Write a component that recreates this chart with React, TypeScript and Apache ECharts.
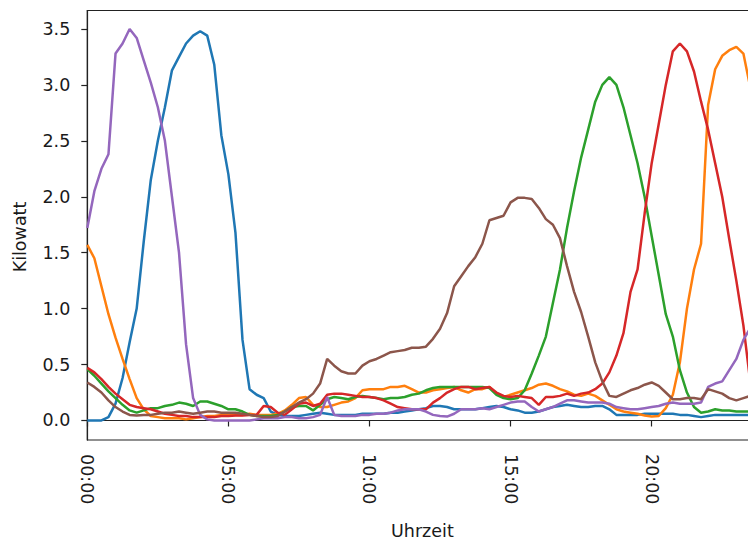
import React, { useEffect, useRef } from "react";
import * as echarts from "echarts";

// 15-minute time categories 00:00 … 23:45
const timeLabels: string[] = [];
for (let h = 0; h < 24; h++) {
  for (let m = 0; m < 60; m += 15) {
    timeLabels.push(`${String(h).padStart(2, "0")}:${String(m).padStart(2, "0")}`);
  }
}

const yTicks = [0, 0.5, 1, 1.5, 2, 2.5, 3, 3.5];
const yAxisTitle = "Kilowatt";
const xAxisTitle = "Uhrzeit";

const seriesBlue = [
  0.0, 0.0, 0.0, 0.03, 0.15, 0.38, 0.7, 1.0, 1.6, 2.15,
  2.5, 2.8, 3.13, 3.25, 3.37, 3.44, 3.48, 3.44, 3.18, 2.55,
  2.2, 1.68, 0.72, 0.28, 0.23, 0.2, 0.08, 0.05, 0.04, 0.04,
  0.04, 0.05, 0.06, 0.07, 0.06, 0.05, 0.05, 0.05, 0.05, 0.06,
  0.06, 0.06, 0.06, 0.07, 0.07, 0.08, 0.09, 0.1, 0.11, 0.13,
  0.13, 0.12, 0.1, 0.1, 0.1, 0.1, 0.11, 0.12, 0.13, 0.12,
  0.1, 0.09, 0.07, 0.07, 0.08, 0.1, 0.12, 0.13, 0.14, 0.13,
  0.12, 0.12, 0.13, 0.13, 0.1, 0.05, 0.05, 0.05, 0.05, 0.06,
  0.06, 0.06, 0.06, 0.06, 0.05, 0.05, 0.04, 0.03, 0.04, 0.05,
  0.05, 0.05, 0.05, 0.05, 0.05, 0.05,
];

const seriesOrange = [
  1.57, 1.45, 1.2, 0.95, 0.74, 0.55, 0.37, 0.2, 0.1, 0.04,
  0.03, 0.02, 0.02, 0.02, 0.01, 0.02, 0.03, 0.04, 0.04, 0.05,
  0.05, 0.05, 0.05, 0.06, 0.05, 0.05, 0.05, 0.06, 0.09, 0.14,
  0.2, 0.21, 0.14, 0.12, 0.12, 0.14, 0.16, 0.17, 0.2, 0.27,
  0.28, 0.28, 0.28, 0.3, 0.3, 0.31, 0.28, 0.25, 0.25, 0.27,
  0.28, 0.29, 0.3, 0.27, 0.25, 0.28, 0.28, 0.3, 0.24, 0.21,
  0.23, 0.25, 0.27, 0.29, 0.32, 0.33, 0.31, 0.28, 0.26, 0.23,
  0.22, 0.24, 0.22, 0.18, 0.14, 0.1, 0.08, 0.07, 0.06, 0.045,
  0.035, 0.04, 0.11, 0.23, 0.52, 1.0, 1.35, 1.58, 2.82, 3.14,
  3.26, 3.31, 3.34, 3.28, 2.97, 2.55,
];

const seriesGreen = [
  0.46, 0.4, 0.33, 0.26, 0.2, 0.14, 0.09, 0.07, 0.09, 0.11,
  0.11, 0.13, 0.14, 0.16, 0.15, 0.13, 0.17, 0.17, 0.15, 0.13,
  0.1, 0.1, 0.08, 0.05, 0.04, 0.04, 0.04, 0.05, 0.08, 0.12,
  0.13, 0.13, 0.09, 0.14, 0.19, 0.21, 0.2, 0.19, 0.21, 0.22,
  0.21, 0.2, 0.19, 0.2, 0.2, 0.21, 0.23, 0.24, 0.27, 0.29,
  0.3, 0.3, 0.3, 0.3, 0.3, 0.3, 0.3, 0.29, 0.23, 0.2,
  0.19, 0.2, 0.27, 0.42, 0.58, 0.75, 1.05, 1.35, 1.72, 2.05,
  2.35, 2.6, 2.85, 3.0, 3.07, 3.0, 2.8, 2.55, 2.3, 2.0,
  1.65, 1.3, 0.95, 0.75, 0.45, 0.25, 0.12, 0.07, 0.08, 0.1,
  0.09, 0.09, 0.08, 0.08, 0.08, 0.08,
];

const seriesRed = [
  0.47, 0.43, 0.37, 0.3, 0.24, 0.19, 0.14, 0.12, 0.11, 0.1,
  0.08, 0.06, 0.05, 0.04, 0.04, 0.03, 0.03, 0.03, 0.03, 0.04,
  0.04, 0.045, 0.045, 0.05, 0.05, 0.13, 0.12, 0.07, 0.05, 0.1,
  0.15, 0.16, 0.13, 0.15, 0.23, 0.24, 0.24, 0.23, 0.22, 0.21,
  0.21, 0.2, 0.18, 0.15, 0.12, 0.11, 0.1, 0.1, 0.1, 0.16,
  0.2, 0.25, 0.28, 0.3, 0.3, 0.28, 0.29, 0.3, 0.25, 0.22,
  0.21, 0.22, 0.21, 0.2, 0.14, 0.21, 0.21, 0.22, 0.24, 0.22,
  0.24, 0.25, 0.28, 0.33, 0.43, 0.58, 0.78, 1.15, 1.35, 1.85,
  2.3, 2.65, 3.0, 3.3, 3.37, 3.3, 3.12, 2.85, 2.6, 2.3,
  2.0, 1.62, 1.25, 0.85, 0.33, 0.25,
];

const seriesPurple = [
  1.72, 2.05, 2.25, 2.38, 3.28, 3.37, 3.5, 3.42, 3.22, 3.02,
  2.8, 2.5, 2.0, 1.5, 0.68, 0.2, 0.05, 0.01, 0.0, 0.0,
  0.0, 0.0, 0.0, 0.0, 0.01, 0.02, 0.02, 0.02, 0.03, 0.03,
  0.02, 0.02, 0.03, 0.05, 0.21, 0.05, 0.04, 0.04, 0.04, 0.05,
  0.05, 0.06, 0.06, 0.07, 0.09, 0.1, 0.1, 0.1, 0.08, 0.05,
  0.04, 0.035, 0.06, 0.1, 0.1, 0.1, 0.11, 0.1, 0.12, 0.14,
  0.16, 0.17, 0.17, 0.12, 0.08, 0.1, 0.12, 0.15, 0.18, 0.18,
  0.17, 0.16, 0.16, 0.16, 0.15, 0.12, 0.11, 0.1, 0.1, 0.11,
  0.12, 0.13, 0.15, 0.16, 0.15, 0.15, 0.15, 0.16, 0.3, 0.33,
  0.35, 0.45, 0.55, 0.72, 0.83, 0.92,
];

const seriesBrown = [
  0.34, 0.3, 0.25, 0.18, 0.12, 0.08, 0.05, 0.045, 0.05, 0.05,
  0.06, 0.07, 0.07, 0.08, 0.07, 0.06, 0.07, 0.08, 0.08, 0.07,
  0.07, 0.07, 0.06, 0.05, 0.04, 0.03, 0.03, 0.04, 0.08, 0.12,
  0.16, 0.19, 0.24, 0.33, 0.55, 0.49, 0.44, 0.42, 0.42, 0.49,
  0.53, 0.55, 0.58, 0.61, 0.62, 0.63, 0.65, 0.65, 0.66, 0.73,
  0.82, 0.96, 1.2, 1.29, 1.38, 1.46, 1.58, 1.79, 1.81, 1.83,
  1.95, 1.99, 1.99, 1.98, 1.9, 1.8, 1.75, 1.63, 1.38, 1.15,
  0.97, 0.75, 0.52, 0.35, 0.22, 0.21, 0.24, 0.27, 0.29, 0.32,
  0.34, 0.31, 0.25, 0.19, 0.19, 0.2, 0.2, 0.19, 0.28, 0.26,
  0.24, 0.2, 0.18, 0.2, 0.22, 0.23,
];

const seriesList = [
  { name: "A", data: seriesBlue, color: "#1f77b4" },
  { name: "B", data: seriesOrange, color: "#ff7f0e" },
  { name: "C", data: seriesGreen, color: "#2ca02c" },
  { name: "D", data: seriesRed, color: "#d62728" },
  { name: "E", data: seriesPurple, color: "#9467bd" },
  { name: "F", data: seriesBrown, color: "#8c564b" },
];

const FONT = "DejaVu Sans";
const TEXT = "#1a1a1a";
const AXIS = "#222";

export default function App() {
  const ref = useRef<HTMLDivElement>(null);
  useEffect(() => {
    if (!ref.current) return;
    const chart = echarts.init(ref.current, undefined, { renderer: "svg" });
    chart.setOption({
      animation: false,
      backgroundColor: "#ffffff",
      grid: {
        left: 87.3,
        top: 10.5,
        width: 670.2,
        height: 434.5,
        show: true,
        borderColor: AXIS,
        borderWidth: 1.2,
        backgroundColor: "transparent",
      },
      graphic: [
        {
          type: "text",
          x: 20,
          y: 237,
          rotation: Math.PI / 2,
          style: {
            text: yAxisTitle,
            fontFamily: FONT,
            fontSize: 17.5,
            fill: TEXT,
            textAlign: "center",
            textVerticalAlign: "middle",
          },
        },
      ],
      xAxis: {
        type: "category",
        data: timeLabels,
        boundaryGap: false,
        name: xAxisTitle,
        nameLocation: "middle",
        nameGap: 82,
        nameTextStyle: { fontFamily: FONT, fontSize: 17.5, color: TEXT },
        axisLine: { show: true, lineStyle: { color: AXIS, width: 1.2 } },
        axisTick: {
          show: true,
          length: 6,
          interval: (i: number) => i % 20 === 0,
          lineStyle: { color: AXIS, width: 1.2 },
        },
        axisLabel: {
          interval: (i: number) => i % 20 === 0,
          rotate: -90,
          margin: 14,
          fontFamily: FONT,
          fontSize: 17.5,
          color: TEXT,
        },
        splitLine: { show: false },
      },
      yAxis: {
        type: "value",
        min: -0.1745,
        max: 3.665,
        axisLine: { show: true, lineStyle: { color: AXIS, width: 1.2 } },
        axisTick: {
          show: true,
          length: 6,
          customValues: yTicks,
          lineStyle: { color: AXIS, width: 1.2 },
        },
        axisLabel: {
          customValues: yTicks,
          formatter: (v: number) => v.toFixed(1),
          margin: 17,
          fontFamily: FONT,
          fontSize: 17.5,
          color: TEXT,
        },
        splitLine: { show: false },
      },
      series: seriesList.map((s) => ({
        type: "line",
        name: s.name,
        data: s.data,
        showSymbol: false,
        symbol: "none",
        lineStyle: { color: s.color, width: 2.5 },
        itemStyle: { color: s.color },
        emphasis: { disabled: true },
      })),
    });
    return () => chart.dispose();
  }, []);

  return (
    <div
      style={{
        position: "fixed",
        left: 0,
        top: 0,
        width: 748,
        height: 545,
        overflow: "hidden",
        background: "#fff",
      }}
    >
      <div ref={ref} style={{ width: 780, height: 545 }} />
    </div>
  );
}
